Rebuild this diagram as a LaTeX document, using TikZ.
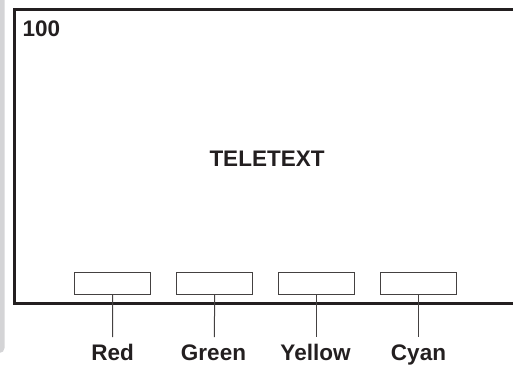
\documentclass[tikz,border=0pt]{standalone}
\usepackage{fontspec}
\setmainfont{Liberation Sans}
\definecolor{ink}{HTML}{231F20}
\definecolor{strip}{HTML}{D4D4D6}
\begin{document}
\begin{tikzpicture}[x=1pt,y=-1pt,
  btn/.style={draw=ink!85, line width=1pt, minimum width=76pt, minimum height=22.5pt, inner sep=0pt, fill=white},
  lbl/.style={font=\bfseries\fontsize{22.5}{26}\selectfont, text=ink, anchor=base, inner sep=0pt},
  lead/.style={draw=ink!85, line width=1pt}]
\useasboundingbox (0,0) rectangle (513,365);
\begin{scope}
\clip (0,0) rectangle (513,365);
\fill[strip, rounded corners=5pt] (-20,-20) rectangle (4.5,353);
\draw[ink, line width=2.8pt] (530,9.5) -- (14.5,9.5) -- (14.5,303.5) -- (530,303.5);
\end{scope}
\node[lbl, anchor=base west] (num) at (22.5,36.7) {100};
\node[lbl] (title) at (267,166) {TELETEXT};
\node[btn] (b1) at (112.5,283.3) {};
\node[btn] (b2) at (214.7,283.3) {};
\node[btn] (b3) at (316.7,283.3) {};
\node[btn] (b4) at (418.7,283.3) {};
\coordinate (e1) at (112.7,337);
\coordinate (e2) at (214.3,337);
\coordinate (e3) at (316.7,337);
\coordinate (e4) at (418.7,337);
\draw[lead] (b1.south) -- (e1);
\draw[lead] (b2.south) -- (e2);
\draw[lead] (b3.south) -- (e3);
\draw[lead] (b4.south) -- (e4);
\node[lbl] (l1) at (112.7,360) {Red};
\node[lbl] (l2) at (213.5,360) {Green};
\node[lbl] (l3) at (315.5,360) {Yellow};
\node[lbl] (l4) at (418.5,360) {Cyan};
\end{tikzpicture}
\end{document}
